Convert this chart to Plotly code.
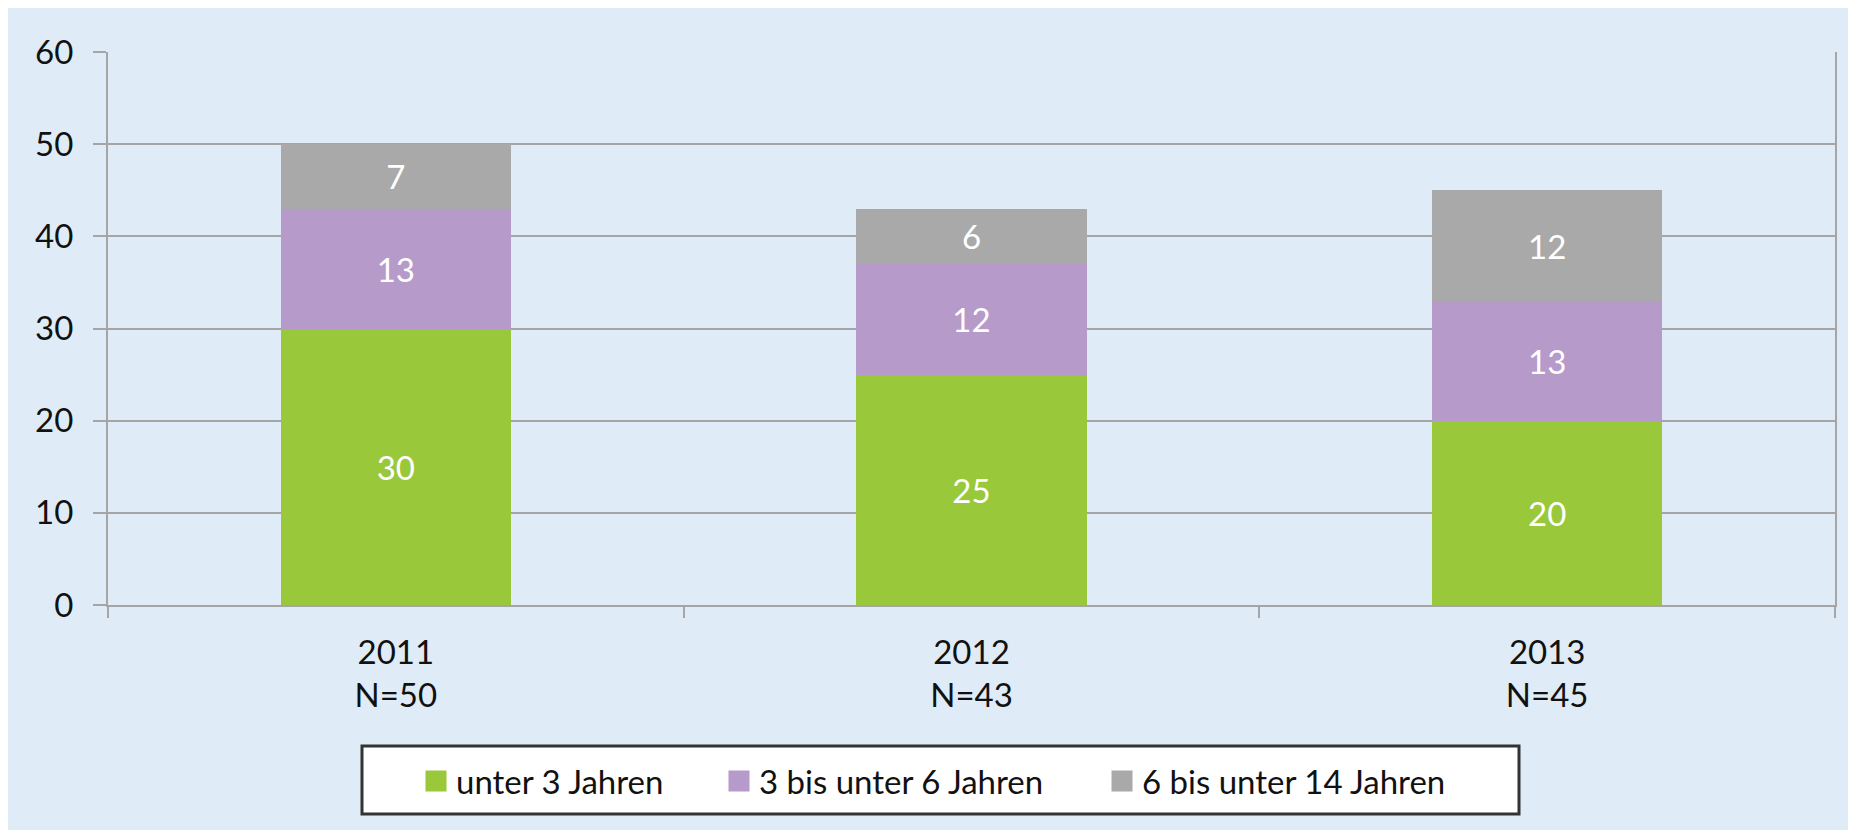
import plotly.graph_objects as go

years = ["2011", "2012", "2013"]
n_values = [50, 43, 45]
series_names = ["unter 3 Jahren", "3 bis unter 6 Jahren", "6 bis unter 14 Jahren"]
under3 = [30, 25, 20]
from3to6 = [13, 12, 13]
from6to14 = [7, 6, 12]
colors = ["#9AC83B", "#B59ACA", "#A9A9A9"]
y_ticks = [0, 10, 20, 30, 40, 50, 60]

categories = [f"{y}<br>N={n}" for y, n in zip(years, n_values)]

# figure size (page has an 8px body margin)
OFF = 8
W, H = 1856 - OFF, 830 - OFF
L, R, T, B = 100, 21, 44, 225
PW, PH = W - L - R, H - T - B


def px_x(page_x):
    return (page_x - OFF - L) / PW


def px_y(page_y):
    return (H - B - (page_y - OFF)) / PH


FONT = "Lato"
FS = 33
TXT = "#111111"
BG = "#DFECF7"
GRID = "#A5A5A5"

fig = go.Figure()
legend_ids = ["legend", "legend2", "legend3"]
for name, vals, col, lg in zip(series_names, [under3, from3to6, from6to14], colors, legend_ids):
    fig.add_trace(go.Bar(
        x=categories, y=vals, name=name, legendgroup=name, showlegend=False,
        marker=dict(color=col, line=dict(width=0)),
        text=[str(v) for v in vals], textposition="inside",
        insidetextanchor="middle", textangle=0,
        textfont=dict(color="white", size=FS, family=FONT),
    ))
    # legend entry (larger square swatch than the default bar legend symbol)
    fig.add_trace(go.Scatter(
        x=[None], y=[None], name=name, legendgroup=name, mode="markers",
        marker=dict(symbol="square", size=16, color=col, line=dict(width=5, color=col)),
        legend=lg, hoverinfo="skip",
    ))

legend_common = dict(
    orientation="h", bgcolor="rgba(0,0,0,0)", borderwidth=0,
    font=dict(family=FONT, size=FS, color=TXT),
    xanchor="left", yanchor="middle", y=px_y(781),
)
text_starts = [454, 757, 1140]
TEXT_OFF = 38

fig.update_layout(
    width=W, height=H,
    margin=dict(l=L, r=R, t=T, b=B),
    paper_bgcolor=BG,
    plot_bgcolor="rgba(0,0,0,0)",
    barmode="stack",
    bargap=0.6,
    showlegend=True,
    font=dict(family=FONT, size=FS, color=TXT),
    legend=dict(**legend_common, x=px_x(text_starts[0] - TEXT_OFF)),
    legend2=dict(**legend_common, x=px_x(text_starts[1] - TEXT_OFF)),
    legend3=dict(**legend_common, x=px_x(text_starts[2] - TEXT_OFF)),
    shapes=[
        dict(type="rect", xref="paper", yref="paper", layer="below",
             x0=px_x(362), x1=px_x(1519), y0=px_y(814), y1=px_y(746),
             fillcolor="white", line=dict(width=3, color="#333333")),
    ],
    xaxis=dict(
        type="category", showgrid=False, fixedrange=True,
        showline=True, linecolor=GRID, linewidth=2,
        ticks="outside", tickson="boundaries", ticklen=11, tickwidth=2, tickcolor=GRID,
        tickfont=dict(family=FONT, size=FS, color=TXT),
        ticklabelstandoff=17,
    ),
    yaxis=dict(
        range=[0, 60], tickvals=y_ticks, showgrid=True, gridcolor=GRID, gridwidth=2,
        zeroline=False, showline=True, mirror=True, linecolor=GRID, linewidth=2,
        ticks="outside", ticklen=13, tickwidth=2, tickcolor=GRID,
        tickfont=dict(family=FONT, size=FS, color=TXT),
        ticklabelstandoff=13, fixedrange=True,
    ),
)

fig.write_html("out.html")
